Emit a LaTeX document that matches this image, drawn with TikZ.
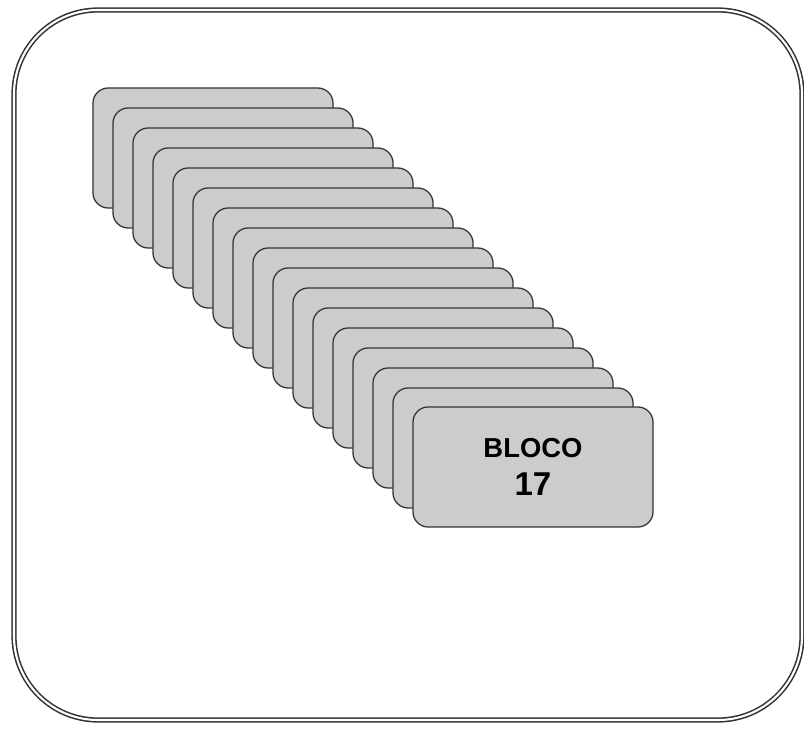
\documentclass[tikz,border=0pt]{standalone}
\usepackage{fontspec}
\setmainfont{Liberation Sans}
\usetikzlibrary{positioning}
\tikzset{
  frame/.style={draw=black!80, line width=1.1pt, double=white, double distance=1.5pt, rounded corners=2.1cm},
  bloco/.style={rectangle, rounded corners=0.38cm, draw=black!80, line width=0.9pt, fill=black!20,
    minimum width=6cm, minimum height=3cm, inner sep=0pt, align=center,
    font=\bfseries\fontsize{19.5}{27}\selectfont},
}
\begin{document}
\begin{tikzpicture}[x=0.025cm, y=-0.025cm]
    \useasboundingbox (0,0) rectangle (804,730);
    \draw[frame] (14,10) rectangle (802,720);
    % pilha de blocos
    \foreach \i in {1,...,16}{
        \node[bloco] (bloco\i) at ({193+20*\i},{128+20*\i}) {};
    }
    \node[bloco] (bloco17) at (533,467)
        {BLOCO\\{\fontsize{23.5}{27}\selectfont 17}};
\end{tikzpicture}
\end{document}
